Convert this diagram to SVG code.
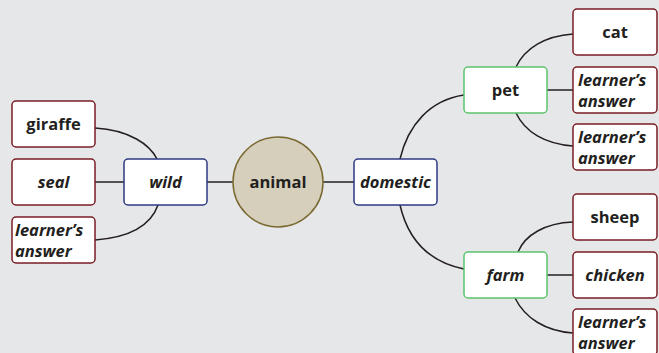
<svg xmlns="http://www.w3.org/2000/svg" width="659" height="353" viewBox="0 0 659 353">
<style>
text{font-family:"Open Sans","Noto Sans","Liberation Sans",sans-serif;font-weight:bold;font-size:16.5px;fill:#231f20;text-anchor:middle}
.i{font-style:italic}
.l{text-anchor:start}
.leaf{fill:#fff;stroke:#7a1c24;stroke-width:1.5}
.blue{fill:#fff;stroke:#2e3a84;stroke-width:1.5}
.green{fill:#fff;stroke:#5cc46e;stroke-width:1.5}
.c{fill:none;stroke:#231f20;stroke-width:1.5}
</style>
<rect width="659" height="353" fill="#e6e7e8"/>
<g id="connectors">
<path class="c" d="M95,128 C130,130 150,145 157,159"/>
<path class="c" d="M95,182 H124"/>
<path class="c" d="M95,240 C135,237 152,222 158,205"/>
<path class="c" d="M207,182 H233"/>
<path class="c" d="M323,182 H354"/>
<path class="c" d="M400,159 C408,125 430,100 464,95"/>
<path class="c" d="M400,205 C408,240 430,262 464,269"/>
<path class="c" d="M516,67 C525,48 545,36 573,34"/>
<path class="c" d="M547,90 H573"/>
<path class="c" d="M516,113 C525,132 545,144 573,146"/>
<path class="c" d="M518,252 C525,235 545,223 573,222"/>
<path class="c" d="M547,275 H573"/>
<path class="c" d="M515,298 C525,318 545,331 573,333"/>
</g>
<g id="animal"><circle cx="278" cy="182" r="45" fill="#d5cfbc" stroke="#7a6a32" stroke-width="1.5"/><text x="278" y="188">animal</text></g>
<g id="wild"><rect class="blue" x="124" y="159" width="83" height="46" rx="4"/><text class="i" x="165.5" y="188">wild</text></g>
<g id="domestic"><rect class="blue" x="354" y="159" width="83" height="46" rx="4"/><text class="i" x="395.5" y="188">domestic</text></g>
<g id="giraffe"><rect class="leaf" x="12" y="101" width="83" height="46" rx="4"/><text x="53.5" y="130">giraffe</text></g>
<g id="seal"><rect class="leaf" x="12" y="159" width="83" height="46" rx="4"/><text class="i" x="53.5" y="188">seal</text></g>
<g id="wild-learner"><rect class="leaf" x="12" y="217" width="83" height="46" rx="4"/><text class="i l" x="15" y="236">learner’s</text><text class="i l" x="15" y="257">answer</text></g>
<g id="pet"><rect class="green" x="464" y="67" width="83" height="46" rx="4"/><text x="505.5" y="96">pet</text></g>
<g id="farm"><rect class="green" x="464" y="252" width="83" height="46" rx="4"/><text class="i" x="505.5" y="281">farm</text></g>
<g id="cat"><rect class="leaf" x="573" y="9" width="84" height="46" rx="4"/><text x="615" y="38">cat</text></g>
<g id="pet-learner1"><rect class="leaf" x="573" y="67" width="84" height="46" rx="4"/><text class="i l" x="578" y="86">learner’s</text><text class="i l" x="578" y="107">answer</text></g>
<g id="pet-learner2"><rect class="leaf" x="573" y="124" width="84" height="46" rx="4"/><text class="i l" x="578" y="143">learner’s</text><text class="i l" x="578" y="164">answer</text></g>
<g id="sheep"><rect class="leaf" x="573" y="194" width="84" height="46" rx="4"/><text x="615" y="223">sheep</text></g>
<g id="chicken"><rect class="leaf" x="573" y="252" width="84" height="46" rx="4"/><text class="i" x="615" y="281">chicken</text></g>
<g id="farm-learner"><rect class="leaf" x="573" y="309" width="84" height="46" rx="4"/><text class="i l" x="578" y="328">learner’s</text><text class="i l" x="578" y="349">answer</text></g>
</svg>
